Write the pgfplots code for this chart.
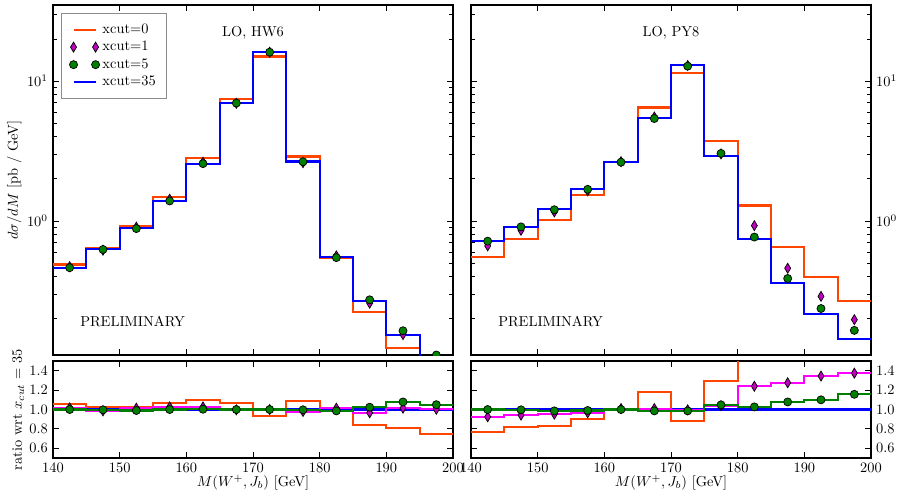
\documentclass[border=0pt]{standalone}
\usepackage{pgfplots}
\pgfplotsset{compat=1.18}
\usepackage{pgfplotstable}

\definecolor{xorange}{RGB}{255,69,0}
\definecolor{xmag}{RGB}{191,0,191}
\definecolor{xmagl}{RGB}{255,0,255}
\definecolor{xgreen}{RGB}{0,128,0}
\definecolor{legframe}{RGB}{140,140,140}

% lo: lower bin edge, xc: bin centre; o,b,m,g: xcut = 0,35,1,5;
% ro,rm,rg: ratios to xcut = 35. Last row repeats the last bin to close the steps.
\pgfplotstableread{
lo  xc    o      b      m      g      ro     rm     rg
140 142.5 0.488  0.463  0.471  0.463  1.058  1.017  1.000
145 147.5 0.640  0.627  0.618  0.625  1.024  0.986  0.997
150 152.5 0.920  0.891  0.903  0.882  1.030  1.014  0.990
155 157.5 1.48   1.39   1.43   1.39   1.068  1.027  1.000
160 162.5 2.80   2.56   2.63   2.57   1.100  1.027  1.003
165 167.5 7.41   6.96   6.94   6.96   1.068  0.997  1.000
170 172.5 15.0   16.1   16.1   16.1   0.932  1.000  1.000
175 177.5 2.89   2.66   2.61   2.65   1.085  0.980  0.997
180 182.5 0.546  0.555  0.563  0.547  0.983  1.014  0.986
185 187.5 0.222  0.267  0.258  0.273  0.836  0.966  1.024
190 192.5 0.123  0.152  0.154  0.164  0.809  1.014  1.078
195 197.5 0.079  0.105  0.105  0.110  0.751  1.003  1.050
200 202.5 0.079  0.105  0.105  0.110  0.751  1.003  1.050
}\hwsix

\pgfplotstableread{
lo  xc    o      b      m      g      ro     rm     rg
140 142.5 0.554  0.717  0.663  0.717  0.772  0.925  1.000
145 147.5 0.743  0.910  0.857  0.907  0.816  0.942  0.997
150 152.5 1.016  1.22   1.161  1.203  0.833  0.952  0.986
155 157.5 1.527  1.70   1.642  1.683  0.898  0.966  0.990
160 162.5 2.656  2.63   2.656  2.63   1.010  1.010  1.000
165 167.5 6.47   5.48   5.535  5.40   1.180  1.010  0.986
170 172.5 11.47  12.97  12.93  12.79  0.884  0.997  0.986
175 177.5 3.74   2.90   3.016  3.04   1.290  1.040  1.048
180 182.5 1.29   0.747  0.926  0.767  1.727  1.240  1.027
185 187.5 0.647  0.360  0.459  0.388  1.797  1.276  1.078
190 192.5 0.395  0.215  0.289  0.2365 1.837  1.345  1.100
195 197.5 0.266  0.143  0.197  0.165  1.860  1.375  1.157
200 202.5 0.266  0.143  0.197  0.165  1.860  1.375  1.157
}\pyeight

\pgfplotsset{
  panelbase/.style={
    scale only axis, width=277.6pt,
    xmin=140, xmax=200, xtick={140,150,...,200},
    tick align=inside, xtick pos=both, ytick pos=both,
    axis line style={black, line width=0.8pt},
    every tick/.style={black, line width=0.6pt},
    clip marker paths=true,
  },
  ratiopanel/.style={panelbase, height=67.3pt, ymin=0.5, ymax=1.5,
    ytick={0.6,0.8,1.0,1.2,1.4},
    yticklabel style={/pgf/number format/.cd, fixed, fixed zerofill, precision=1},
    xlabel={$M(W^+, J_b)$ [GeV]},
    xlabel style={at={(axis description cs:0.5,-0.293)}, anchor=base, inner sep=0pt}},
  histline/.style={const plot, line width=1.45pt, forget plot},
  diamarks/.style={only marks, mark=diamond*, mark size=3.47pt,
    mark options={fill=xmag, draw=black, line width=0.5pt, xscale=0.8},
    forget plot, skip coords between index={12}{13}},
  dotmarks/.style={only marks, mark=*, mark size=2.8pt,
    mark options={fill=xgreen, draw=black, line width=0.5pt},
    forget plot, skip coords between index={12}{13}},
}

\begin{document}
\begin{tikzpicture}
\useasboundingbox (0pt,0pt) rectangle (623.2pt,-342.8pt);

% ---------------- HW6 spectrum ----------------
\begin{axis}[panelbase, ymode=log, ymin=0.11, ymax=35, height=242.9pt,
  xticklabels={},
  at={(36.78pt,-246.37pt)}, anchor=south west,
  ylabel={$d\sigma/dM$ [pb / GeV]},
  ylabel style={at={(axis description cs:-0.0875,0.5)}, anchor=base, inner sep=0pt},
  legend cell align=left,
  legend style={at={(axis description cs:0.02,0.977)}, anchor=north west,
    draw=legframe, line width=0.8pt, fill=white, inner xsep=5.5pt, inner ysep=5pt,
    row sep=0pt, nodes={inner sep=2pt, text depth=0.15em},
    every odd column/.append style={column sep=2pt}},
]
\addplot[histline, xorange] table[x=lo, y=o] {\hwsix};
\addplot[histline, blue] table[x=lo, y=b] {\hwsix};
\addplot[diamarks] table[x=xc, y=m] {\hwsix};
\addplot[dotmarks] table[x=xc, y=g] {\hwsix};

\addlegendimage{xorange, line width=1.45pt,
  legend image code/.code={\draw (0pt,0pt) -- (15.3pt,0pt);}}
\addlegendentry{xcut=0}
\addlegendimage{mark=diamond*, mark size=3.47pt,
  mark options={fill=xmag, draw=black, line width=0.5pt, xscale=0.8},
  legend image code/.code={\draw[only marks] plot coordinates {(0pt,0pt) (15.3pt,0pt)};}}
\addlegendentry{xcut=1}
\addlegendimage{mark=*, mark size=2.8pt,
  mark options={fill=xgreen, draw=black, line width=0.5pt},
  legend image code/.code={\draw[only marks] plot coordinates {(0pt,0pt) (15.3pt,0pt)};}}
\addlegendentry{xcut=5}
\addlegendimage{blue, line width=1.45pt,
  legend image code/.code={\draw (0pt,0pt) -- (15.3pt,0pt);}}
\addlegendentry{xcut=35}

\node[anchor=base] at (axis description cs:0.5,0.909) {LO, HW6};
\node[anchor=base west, inner sep=0pt] at (axis description cs:0.0675,0.081) {PRELIMINARY};
\end{axis}

% ---------------- PY8 spectrum ----------------
\begin{axis}[panelbase, ymode=log, ymin=0.11, ymax=35, height=242.9pt,
  xticklabels={},
  at={(326.87pt,-246.37pt)}, anchor=south west,
  yticklabel pos=right]
\addplot[histline, xorange] table[x=lo, y=o] {\pyeight};
\addplot[histline, blue] table[x=lo, y=b] {\pyeight};
\addplot[diamarks] table[x=xc, y=m] {\pyeight};
\addplot[dotmarks] table[x=xc, y=g] {\pyeight};
\node[anchor=base] at (axis description cs:0.5,0.909) {LO, PY8};
\node[anchor=base west, inner sep=0pt] at (axis description cs:0.0675,0.081) {PRELIMINARY};
\end{axis}

% ---------------- HW6 ratio ----------------
\begin{axis}[ratiopanel, at={(36.78pt,-317.85pt)}, anchor=south west,
  ylabel={ratio wrt $x_{cut}$ = 35},
  ylabel style={at={(axis description cs:-0.0775,0.5)}, anchor=base, inner sep=0pt}]
\addplot[histline, blue] coordinates {(140,1) (200,1)};
\addplot[histline, xorange] table[x=lo, y=ro] {\hwsix};
\addplot[histline, xmagl] table[x=lo, y=rm] {\hwsix};
\addplot[histline, xgreen] table[x=lo, y=rg] {\hwsix};
\addplot[diamarks] table[x=xc, y=rm] {\hwsix};
\addplot[dotmarks] table[x=xc, y=rg] {\hwsix};
\end{axis}

% ---------------- PY8 ratio ----------------
\begin{axis}[ratiopanel, at={(326.87pt,-317.85pt)}, anchor=south west,
  yticklabel pos=right]
\addplot[histline, blue] coordinates {(140,1) (200,1)};
\addplot[histline, xorange] table[x=lo, y=ro] {\pyeight};
\addplot[histline, xmagl] table[x=lo, y=rm] {\pyeight};
\addplot[histline, xgreen] table[x=lo, y=rg] {\pyeight};
\addplot[diamarks] table[x=xc, y=rm] {\pyeight};
\addplot[dotmarks] table[x=xc, y=rg] {\pyeight};
\end{axis}
\end{tikzpicture}
\end{document}
